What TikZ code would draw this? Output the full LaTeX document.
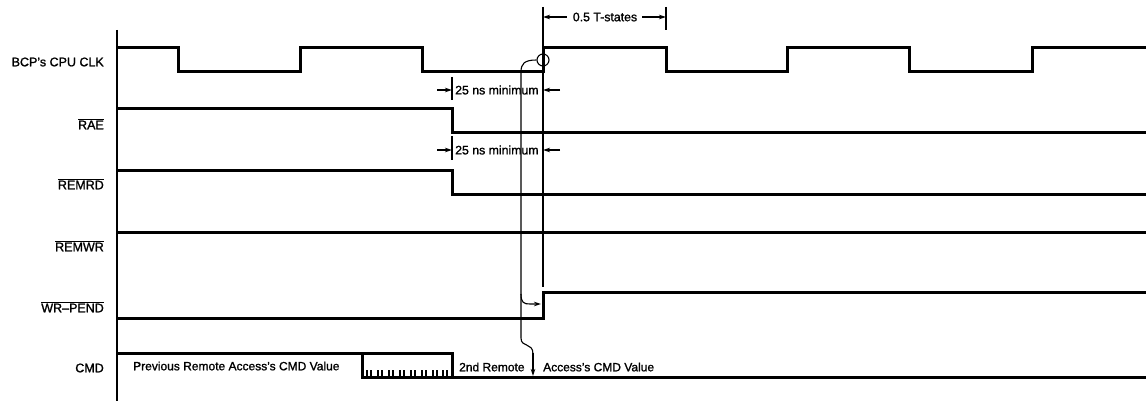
\documentclass[tikz,border=0pt]{standalone}
\usepackage{fontspec}
\setmainfont{Liberation Sans}[BoldFont=Liberation Sans, BoldFeatures={FakeBold=1.3}]
\usetikzlibrary{arrows.meta}
\begin{document}
\begin{tikzpicture}[x=1pt,y=-1pt,
  sig/.style={line width=3pt, line join=miter},
  thinl/.style={line width=1.1pt},
  lbl/.style={anchor=east, inner sep=0pt, font=\fontsize{12.5}{14}\selectfont\bfseries},
  val/.style={anchor=west, inner sep=0pt, font=\fontsize{12}{14}\selectfont\bfseries},
  dim/.style={inner sep=0pt, font=\fontsize{12.3}{14}\selectfont\bfseries},
  tip/.style={-{Stealth[length=7pt,width=4.5pt]}, line width=1.1pt}]
\useasboundingbox (0,0) rectangle (1146,401);
% axis
\draw[thinl] (117,30) -- (117,401);
% labels
\node[lbl] (lclk) at (104,62) {BCP's CPU CLK};
\node[lbl] (lrae) at (104,124) {$\overline{\mbox{\bfseries RAE}}$};
\node[lbl] (lremrd) at (104,184) {$\overline{\mbox{\bfseries REMRD}}$};
\node[lbl] (lremwr) at (104,246) {$\overline{\mbox{\bfseries REMWR}}$};
\node[lbl] (lwrp) at (104,307) {$\overline{\mbox{\bfseries WR--PEND}}$};
\node[lbl] (lcmd) at (104,368) {CMD};
% signals
\draw[sig] (117,48) -- (178,48) -- (178,72) -- (300,72) -- (300,48) -- (422,48) -- (422,72)
  -- (543,72) -- (543,48) -- (666,48) -- (666,72) -- (787,72) -- (787,48) -- (909,48)
  -- (909,72) -- (1032,72) -- (1032,48) -- (1146,48);
\draw[sig] (117,109) -- (452,109) -- (452,133) -- (1146,133);
\draw[sig] (117,171) -- (452,171) -- (452,194) -- (1146,194);
\draw[sig] (117,232) -- (1146,232);
\draw[sig] (117,318) -- (543,318) -- (543,292) -- (1146,292);
\draw[sig] (117,353) -- (452,353) -- (452,377) -- (1146,377);
\draw[sig] (362,353) -- (362,377) -- (452,377);
\foreach \x in {367,378,389,400,411,422,433,443}
  \draw[line width=1.2pt] (\x,370) -- (\x,377) (\x+4,370) -- (\x+4,377);
\node[val] (vprev) at (133,366) {Previous Remote Access's CMD Value};
\node[val] (v2a) at (459,367) {2nd Remote};
\node[val] (v2b) at (543,367) {Access's CMD Value};
% reference lines
\draw[thinl] (543,7) -- (543,287);
\draw[thinl] (666,7) -- (666,30);
\draw[thinl] (452,77) -- (452,100);
\draw[thinl] (452,136) -- (452,160);
% 0.5 T-states
\node[dim] (tst) at (605,17) {0.5 T-states};
\coordinate (tl) at (543,17);
\coordinate (tr) at (666,17);
\draw[tip] (tst.west) ++(-6,0) -- (tl);
\draw[tip] (tst.east) ++(5,0) -- (tr);
% 25 ns minimum
\node[dim, anchor=west] (ns1) at (455,90) {25 ns minimum};
\node[dim, anchor=west] (ns2) at (455,150) {25 ns minimum};
\coordinate (a1l) at (452,90); \coordinate (a1r) at (543,90);
\coordinate (a2l) at (452,150); \coordinate (a2r) at (543,150);
\draw[tip] (437,90) -- (a1l);
\draw[tip] (560,90) -- (a1r);
\draw[tip] (437,150) -- (a2l);
\draw[tip] (560,150) -- (a2r);
% circle and causal connectors
\node[draw, circle, line width=1.1pt, minimum size=12pt, inner sep=0pt] (circ) at (543,60) {};
\coordinate (wredge) at (541,304);
\coordinate (cmdpt) at (533,376);
\draw[thinl] (circ.west) .. controls (524,60) and (521,64) .. (521,72) -- (521,338)
  .. controls (521,348) and (533,342) .. (533,354);
\draw[tip] (533,353) -- (cmdpt);
\draw[tip] (521,294) .. controls (521,303) and (524,304) .. (530,304) -- (wredge);
\end{tikzpicture}
\end{document}
